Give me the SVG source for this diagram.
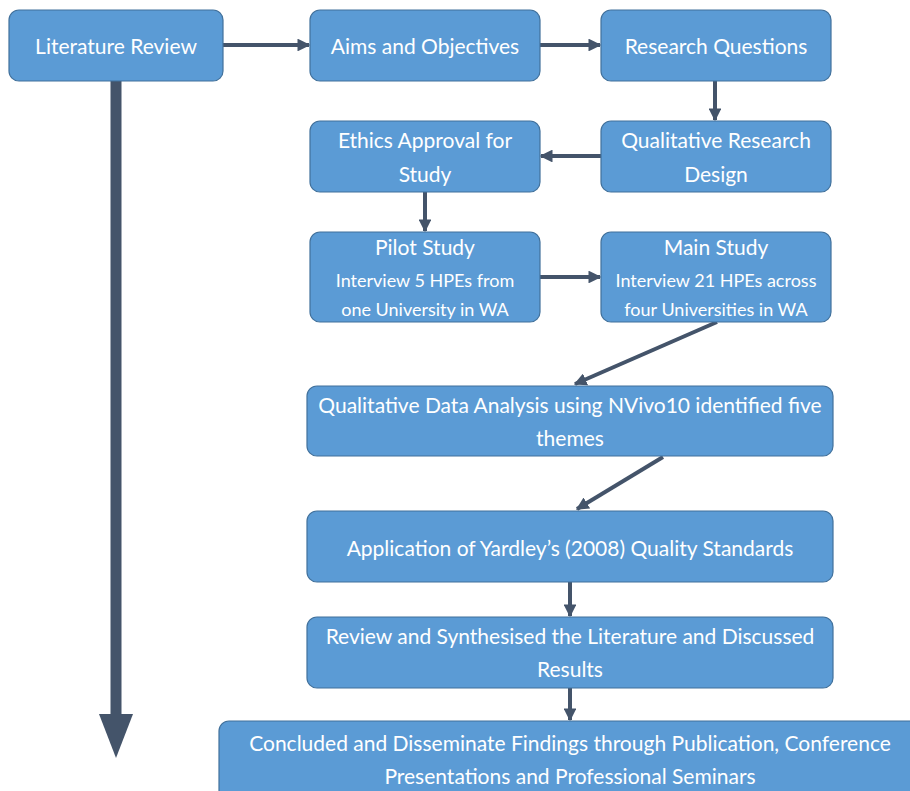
<svg xmlns="http://www.w3.org/2000/svg" width="910" height="791" viewBox="0 0 910 791">
  <style>
    .box { fill: #5B9BD5; stroke: #41719C; stroke-width: 1.2; }
    .t { font-family: Lato, "Open Sans", "Liberation Sans", sans-serif; fill: #FFFFFF; text-anchor: middle; font-size: 21px; }
    .s { font-size: 18px; }
    .conn { stroke: #44546A; stroke-width: 4; fill: none; marker-end: url(#head); }
  </style>
  <defs>
    <marker id="head" viewBox="0 0 10 10" refX="9" refY="5" markerWidth="3.2" markerHeight="3.2" markerUnits="strokeWidth" orient="auto">
      <path d="M0,0 L10,5 L0,10 Z" fill="#44546A"/>
    </marker>
  </defs>

  <!-- connectors -->
  <g id="connectors">
    <line class="conn" x1="223" y1="45" x2="309" y2="45"/>
    <line class="conn" x1="540" y1="45" x2="600" y2="45"/>
    <line class="conn" x1="715" y1="81" x2="715" y2="120"/>
    <line class="conn" x1="601" y1="156" x2="541" y2="156"/>
    <line class="conn" x1="425" y1="192" x2="425" y2="231"/>
    <line class="conn" x1="540" y1="277" x2="600" y2="277"/>
    <line class="conn" x1="717" y1="322" x2="575" y2="384"/>
    <line class="conn" x1="663" y1="457" x2="577" y2="509"/>
    <line class="conn" x1="570" y1="582" x2="570" y2="616"/>
    <line class="conn" x1="570" y1="688" x2="570" y2="720"/>
    <!-- long timeline arrow -->
    <rect x="110.5" y="81" width="11" height="636" fill="#44546A"/>
    <path d="M99,714 L133,714 L116,758 Z" fill="#44546A"/>
  </g>

  <g id="literature-review">
    <rect class="box" x="9" y="10" width="214" height="71" rx="10"/>
    <text class="t" x="116" y="54">Literature Review</text>
  </g>
  <g id="aims">
    <rect class="box" x="310" y="10" width="230" height="71" rx="10"/>
    <text class="t" x="425" y="54">Aims and Objectives</text>
  </g>
  <g id="research-questions">
    <rect class="box" x="601" y="10" width="230" height="71" rx="10"/>
    <text class="t" x="716" y="54">Research Questions</text>
  </g>
  <g id="ethics">
    <rect class="box" x="310" y="121" width="230" height="71" rx="10"/>
    <text class="t" x="425" y="148">Ethics Approval for</text>
    <text class="t" x="425" y="182">Study</text>
  </g>
  <g id="qualitative-design">
    <rect class="box" x="601" y="121" width="230" height="71" rx="10"/>
    <text class="t" x="716" y="148">Qualitative Research</text>
    <text class="t" x="716" y="182">Design</text>
  </g>
  <g id="pilot-study">
    <rect class="box" x="310" y="232" width="230" height="90" rx="10"/>
    <text class="t" x="425" y="255">Pilot Study</text>
    <text class="t s" x="425" y="287">Interview 5 HPEs from</text>
    <text class="t s" x="425" y="316">one University in WA</text>
  </g>
  <g id="main-study">
    <rect class="box" x="601" y="232" width="230" height="90" rx="10"/>
    <text class="t" x="716" y="255">Main Study</text>
    <text class="t s" x="716" y="287">Interview 21 HPEs across</text>
    <text class="t s" x="716" y="316">four Universities in WA</text>
  </g>
  <g id="data-analysis">
    <rect class="box" x="307" y="386" width="526" height="70" rx="10"/>
    <text class="t" x="570" y="413">Qualitative Data Analysis using NVivo10 identified five</text>
    <text class="t" x="570" y="446">themes</text>
  </g>
  <g id="yardley">
    <rect class="box" x="307" y="511" width="526" height="71" rx="10"/>
    <text class="t" x="570" y="556">Application of Yardley’s (2008) Quality Standards</text>
  </g>
  <g id="review">
    <rect class="box" x="307" y="617" width="526" height="71" rx="10"/>
    <text class="t" x="570" y="644">Review and Synthesised the Literature and Discussed</text>
    <text class="t" x="570" y="677">Results</text>
  </g>
  <g id="concluded">
    <rect class="box" x="219" y="721" width="702" height="80" rx="10"/>
    <text class="t" x="570" y="751">Concluded and Disseminate Findings through Publication, Conference</text>
    <text class="t" x="570" y="784">Presentations and Professional Seminars</text>
  </g>
</svg>
